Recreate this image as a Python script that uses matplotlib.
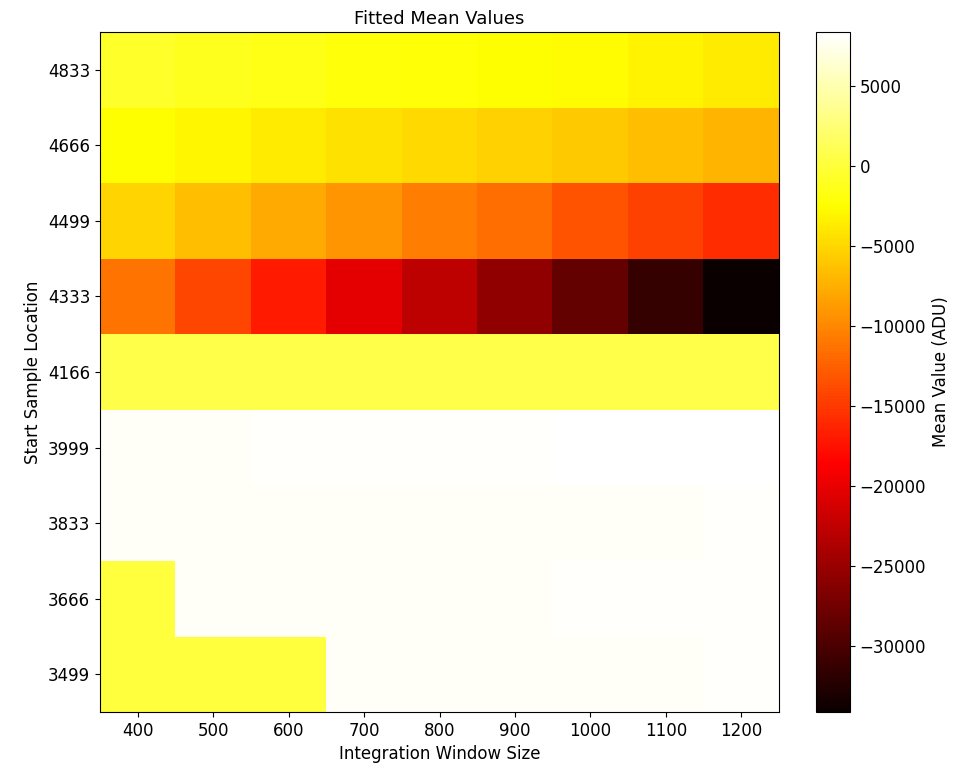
import matplotlib
matplotlib.use("Agg")
import matplotlib.pyplot as plt
import numpy as np

# integration window sizes (columns) and start sample locations (rows, bottom to top)
window_sizes = [400, 500, 600, 700, 800, 900, 1000, 1100, 1200]
start_samples = [3499, 3666, 3833, 3999, 4166, 4333, 4499, 4666, 4833]

# fitted mean values (ADU), one row per start sample
row_3499 = [150, 150, 150, 7950, 7950, 8000, 8000, 8000, 8100]
row_3666 = [150, 8000, 7950, 8000, 8000, 8000, 8100, 8100, 8200]
row_3833 = [7950, 7950, 7950, 7950, 8000, 8000, 8000, 8000, 8200]
row_3999 = [8050, 8050, 8100, 8100, 8100, 8200, 8300, 8350, 8400]
row_4166 = [600, 600, 600, 620, 620, 620, 620, 640, 640]
row_4333 = [-11300, -14100, -17000, -20200, -22700, -25600, -28400, -31300, -34100]
row_4499 = [-5200, -6500, -7800, -9100, -10600, -11600, -13200, -14500, -15700]
row_4666 = [-2400, -3000, -3650, -4300, -4750, -5250, -5750, -6500, -7150]
row_4833 = [-700, -1100, -1550, -1950, -2200, -2400, -2700, -3150, -3650]

mean_values = np.array([row_3499, row_3666, row_3833, row_3999, row_4166,
                        row_4333, row_4499, row_4666, row_4833])

fig = plt.figure(figsize=(9.67, 7.74), dpi=100)
ax = fig.add_axes([100 / 967, 62 / 774, 679 / 967, 680 / 774])
cax = fig.add_axes([816 / 967, 62 / 774, 34 / 967, 680 / 774])

im = ax.imshow(mean_values, cmap="hot", origin="lower", aspect="auto",
               interpolation="nearest")

ax.set_xticks(np.arange(len(window_sizes)))
ax.set_xticklabels([str(w) for w in window_sizes])
ax.set_yticks(np.arange(len(start_samples)))
ax.set_yticklabels([str(s) for s in start_samples])
ax.tick_params(labelsize=12)

ax.set_xlabel("Integration Window Size", fontsize=12)
ax.set_ylabel("Start Sample Location", fontsize=12)
ax.set_title("Fitted Mean Values", fontsize=13)

cb = fig.colorbar(im, cax=cax)
cb.set_ticks(np.arange(-30000, 5001, 5000))
cb.ax.tick_params(labelsize=12)
cb.set_label("Mean Value (ADU)", fontsize=12)

fig.savefig("out.png", dpi=100)
